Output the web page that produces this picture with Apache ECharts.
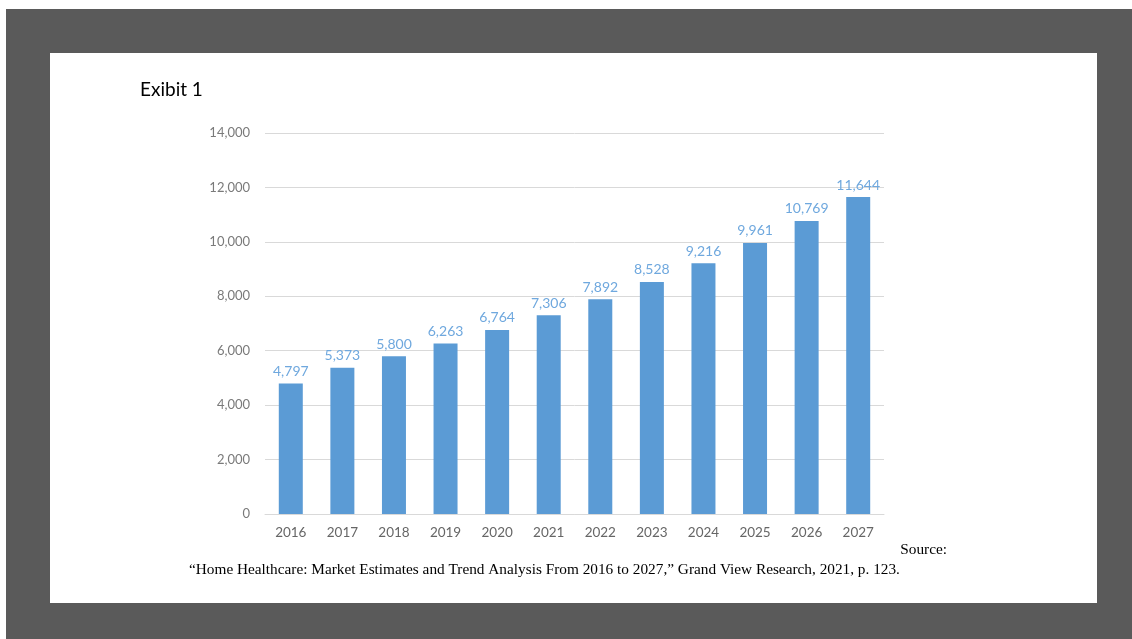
<!DOCTYPE html>
<html>
<head>
<meta charset="utf-8">
<script src="https://cdn.jsdelivr.net/npm/echarts@6/dist/echarts.min.js"></script>
<style>
html,body{margin:0;padding:0;background:#ffffff;}
#frame{position:absolute;left:6px;top:9px;width:1126px;height:630px;background:#5a5a5a;}
#panel{position:absolute;left:50px;top:53px;width:1047px;height:550px;background:#ffffff;}
#chart{position:absolute;left:0;top:0;width:1132px;height:639px;}
</style>
</head>
<body>
<div id="frame"></div>
<div id="panel"></div>
<div id="chart"></div>
<script>
const years = ['2016','2017','2018','2019','2020','2021','2022','2023','2024','2025','2026','2027'];
const values = [4797, 5373, 5800, 6263, 6764, 7306, 7892, 8528, 9216, 9961, 10769, 11644];
const titleText = 'Exibit 1';
const sourceLabel = 'Source:';
const citation = '\u201cHome Healthcare: Market Estimates and Trend Analysis From 2016 to 2027,\u201d Grand View Research, 2021, p. 123.';

const chart = echarts.init(document.getElementById('chart'), null, {renderer:'canvas'});
chart.setOption({
  backgroundColor: 'transparent',
  animation: false,
  title: {
    text: titleText, left: 135, top: 75,
    textStyle: {fontFamily: 'Lato', fontSize: 19, fontWeight: 'normal', color: '#000000'}
  },
  grid: {left: 265, right: 248, top: 133, bottom: 125, containLabel: false},
  xAxis: {
    type: 'category', data: years,
    axisLine: {show: true, lineStyle: {color: '#d9d9d9', width: 1}},
    axisTick: {show: false},
    axisLabel: {color: '#666666', fontFamily: 'Lato', fontSize: 13.5, margin: 12}
  },
  yAxis: {
    type: 'value', min: 0, max: 14000, interval: 2000,
    axisLine: {show: false}, axisTick: {show: false},
    splitLine: {lineStyle: {color: '#d9d9d9', width: 1}},
    axisLabel: {color: '#7a7a7a', fontFamily: 'Lato', fontSize: 13, margin: 15,
      formatter: v => v.toLocaleString('en-US')}
  },
  series: [{
    type: 'bar', data: values, barWidth: 24,
    itemStyle: {color: '#5b9bd5'},
    label: {show: true, position: 'top', distance: 5, color: '#6fa8de',
      fontFamily: 'Lato', fontSize: 14,
      formatter: p => p.value.toLocaleString('en-US')}
  }],
  graphic: [
    {type: 'text', right: 1132 - 947, top: 542,
     style: {text: sourceLabel, font: '15.3px "Liberation Serif"', fill: '#000000'}},
    {type: 'text', left: 189, top: 562,
     style: {text: citation, font: '15.3px "Liberation Serif"', fill: '#000000'}}
  ]
});
</script>
</body>
</html>
